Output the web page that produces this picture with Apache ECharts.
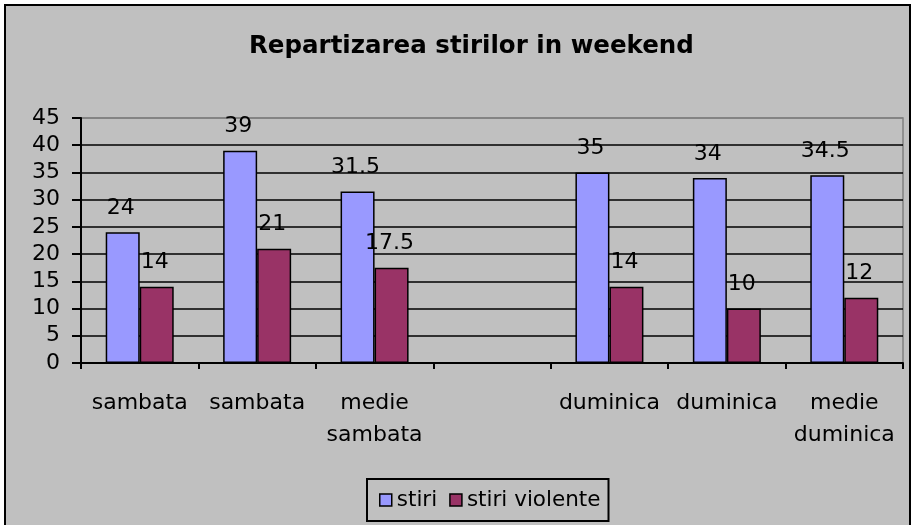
<!DOCTYPE html>
<html>
<head>
<meta charset="utf-8">
<script src="https://cdn.jsdelivr.net/npm/echarts@6/dist/echarts.min.js"></script>
<style>
  html, body { margin: 0; padding: 0; background: #fff; }
  #chart { width: 914px; height: 525px; }
</style>
</head>
<body>
<div id="chart"></div>
<script>
const categories = ['sambata', 'sambata', 'medie\nsambata', '', 'duminica', 'duminica', 'medie\nduminica'];
const stiri = [24, 39, 31.5, '-', 35, 34, 34.5];
const stiriViolente = [14, 21, 17.5, '-', 14, 10, 12];
const yTicks = { min: 0, max: 45, interval: 5 };

const font = 'DejaVu Sans';
// black gridlines, the top one (45) is the grey plot border
const gridColors = ['#000', '#000', '#000', '#000', '#000', '#000', '#000', '#000', '#000', '#808080'];

const myChart = echarts.init(document.getElementById('chart'));

function barSeries(name, data, color) {
  return {
    name: name,
    type: 'bar',
    data: data,
    barWidth: 34,
    barGap: '0%',
    itemStyle: { color: color, borderColor: '#000', borderWidth: 1.5 },
    label: {
      show: true,
      position: 'top',
      distance: 13,
      offset: [-2, 0],
      color: '#000',
      fontFamily: font,
      fontSize: 22
    }
  };
}

myChart.setOption({
  animation: false,
  backgroundColor: '#fff',
  graphic: [{
    type: 'rect',
    z: -10,
    shape: { x: 5, y: 5, width: 905, height: 530 },
    style: { fill: '#c0c0c0', stroke: '#000', lineWidth: 2 }
  }],
  title: {
    text: 'Repartizarea stirilor in weekend',
    left: 244,
    top: 29,
    textStyle: { fontFamily: font, fontWeight: 'bold', fontSize: 24.5, color: '#000' }
  },
  legend: {
    left: 367,
    top: 479,
    padding: [10, 8, 10, 12],
    itemGap: 12,
    itemWidth: 12,
    itemHeight: 12,
    icon: 'rect',
    borderColor: '#000',
    borderWidth: 2,
    textStyle: { fontFamily: font, fontSize: 21.5, color: '#000' },
    itemStyle: { borderColor: '#000', borderWidth: 1.5 }
  },
  grid: {
    left: 81,
    right: 11,
    top: 118,
    bottom: 162,
    show: true,
    backgroundColor: 'transparent',
    borderColor: '#808080',
    borderWidth: 1.5
  },
  xAxis: {
    type: 'category',
    data: categories,
    axisLine: { lineStyle: { color: '#000', width: 2 } },
    axisTick: { show: true, length: 6, interval: 0, lineStyle: { color: '#000', width: 2 } },
    axisLabel: {
      interval: 0,
      margin: 24,
      color: '#000',
      fontFamily: font,
      fontSize: 22,
      lineHeight: 32
    }
  },
  yAxis: {
    type: 'value',
    min: yTicks.min,
    max: yTicks.max,
    interval: yTicks.interval,
    axisLine: { show: true, lineStyle: { color: '#000', width: 2 } },
    axisTick: { show: true, length: 9, lineStyle: { color: '#000', width: 2 } },
    axisLabel: { margin: 21, color: '#000', fontFamily: font, fontSize: 22 },
    splitLine: { show: true, lineStyle: { color: gridColors, width: 1.5 } }
  },
  series: [
    barSeries('stiri', stiri, '#9999ff'),
    barSeries('stiri violente', stiriViolente, '#993366')
  ]
});
</script>
</body>
</html>
